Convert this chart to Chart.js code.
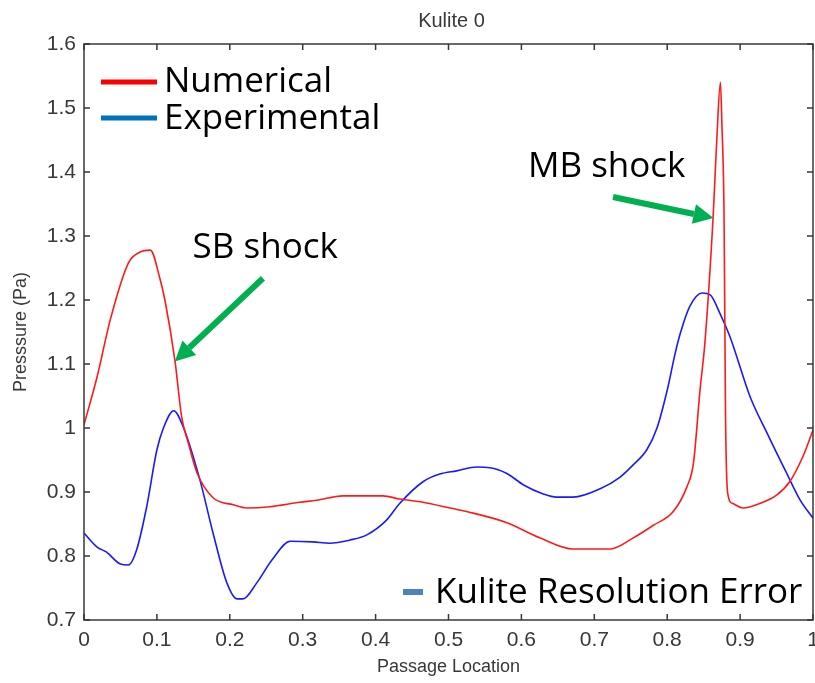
<!DOCTYPE html>
<html>
<head>
<meta charset="utf-8">
<title>Kulite 0</title>
<script src="https://cdn.jsdelivr.net/npm/chart.js@4/dist/chart.umd.min.js"></script>
<style>
  html, body { margin: 0; padding: 0; background: #fff; }
  #wrap { width: 815px; height: 683px; }
</style>
</head>
<body>
<div id="wrap"><canvas id="kuliteChart" width="815" height="683"></canvas></div>
<script>
// Kulite 0 - pressure along the passage

const chartTitle = 'Kulite 0';
const xTitle = 'Passage Location';
const yTitle = 'Presssure (Pa)';
const seriesNames = ['Numerical', 'Experimental'];

// Numerical (red)
const numX = [0, 0.018, 0.036, 0.061, 0.077, 0.091, 0.104, 0.111, 0.125, 0.134,
    0.143, 0.155, 0.177, 0.205, 0.223, 0.255, 0.296, 0.319, 0.355, 0.41,
    0.433, 0.465, 0.502, 0.534, 0.58, 0.626, 0.671, 0.722, 0.753, 0.781,
    0.808, 0.827, 0.836, 0.845, 0.852, 0.863, 0.868, 0.873, 0.875, 0.878,
    0.88, 0.883, 0.89, 0.904, 0.927, 0.95, 0.968, 0.986, 1.0];
const numY = [1.005, 1.08, 1.169, 1.258, 1.275, 1.278, 1.234, 1.2, 1.103, 1.017,
    0.977, 0.93, 0.891, 0.88, 0.875, 0.877, 0.884, 0.887, 0.894, 0.894,
    0.889, 0.884, 0.875, 0.867, 0.852, 0.828, 0.811, 0.811, 0.828, 0.848,
    0.869, 0.908, 0.945, 1.059, 1.137, 1.33, 1.45, 1.54, 1.476, 1.33,
    1.02, 0.898, 0.882, 0.875, 0.882, 0.895, 0.916, 0.955, 0.997];

// Experimental (blue)
const expX = [0, 0.018, 0.031, 0.049, 0.061, 0.072, 0.086, 0.1, 0.109, 0.123,
    0.136, 0.159, 0.177, 0.196, 0.21, 0.218, 0.237, 0.258, 0.283, 0.314,
    0.337, 0.365, 0.388, 0.415, 0.433, 0.465, 0.488, 0.511, 0.539, 0.557,
    0.58, 0.603, 0.63, 0.648, 0.671, 0.708, 0.735, 0.753, 0.772, 0.786,
    0.8, 0.811, 0.818, 0.831, 0.848, 0.859, 0.872, 0.886, 0.914, 0.937,
    0.964, 0.982, 1.0];
const expY = [0.836, 0.814, 0.806, 0.788, 0.786, 0.809, 0.877, 0.966, 1.0, 1.027,
    1.002, 0.919, 0.836, 0.758, 0.733, 0.733, 0.758, 0.794, 0.823, 0.822,
    0.82, 0.825, 0.833, 0.856, 0.882, 0.916, 0.928, 0.933, 0.939, 0.938,
    0.929, 0.911, 0.897, 0.892, 0.892, 0.905, 0.923, 0.942, 0.966, 1.0,
    1.059, 1.117, 1.148, 1.19, 1.211, 1.208, 1.18, 1.143, 1.048, 0.992,
    0.929, 0.888, 0.859];

const xTicks = [0, 0.1, 0.2, 0.3, 0.4, 0.5, 0.6, 0.7, 0.8, 0.9, 1];
const yTicks = [0.7, 0.8, 0.9, 1, 1.1, 1.2, 1.3, 1.4, 1.5, 1.6];

// callouts, given in data units
const callouts = [
    { text: 'SB shock', tx: 0.149, ty: 1.266, from: [0.2455, 1.234], to: [0.1245, 1.104] },
    { text: 'MB shock', tx: 0.609, ty: 1.392, from: [0.7257, 1.361], to: [0.8635, 1.328] }
];
const errorNote = 'Kulite Resolution Error';

const axisFont = 'Liberation Sans, Arial, sans-serif';
const noteFont = '"Open Sans", "Noto Sans", sans-serif';
const axisColor = '#383838';
const arrowColor = '#00B050';

function toPoints(xs, ys) {
    return xs.map((x, i) => ({ x: x, y: ys[i] }));
}

function fmt(v) {
    return String(parseFloat(Number(v).toFixed(1)));
}

const framePlugin = {
    id: 'frame',
    afterDatasetsDraw(chart) {
        const ctx = chart.ctx;
        const area = chart.chartArea;
        const xs = chart.scales.x;
        const ys = chart.scales.y;
        const tick = 6;

        ctx.save();
        // box + inward ticks on every side
        ctx.strokeStyle = axisColor;
        ctx.lineWidth = 1.5;
        ctx.strokeRect(area.left, area.top, area.right - area.left, area.bottom - area.top);
        ctx.beginPath();
        xTicks.forEach(v => {
            const px = xs.getPixelForValue(v);
            ctx.moveTo(px, area.bottom); ctx.lineTo(px, area.bottom - tick);
            ctx.moveTo(px, area.top); ctx.lineTo(px, area.top + tick);
        });
        yTicks.forEach(v => {
            const py = ys.getPixelForValue(v);
            ctx.moveTo(area.left, py); ctx.lineTo(area.left + tick, py);
            ctx.moveTo(area.right, py); ctx.lineTo(area.right - tick, py);
        });
        ctx.stroke();

        // title
        ctx.fillStyle = axisColor;
        ctx.font = '20px ' + axisFont;
        ctx.textAlign = 'center';
        ctx.textBaseline = 'alphabetic';
        ctx.fillText(chartTitle, (area.left + area.right) / 2 + 3, 27);

        // legend
        const legendColors = ['#FF0000', '#0070C0'];
        ctx.font = '35px ' + noteFont;
        ctx.textAlign = 'left';
        seriesNames.forEach((name, i) => {
            const ly = area.top + 38 + i * 36;
            ctx.strokeStyle = legendColors[i];
            ctx.lineWidth = 5;
            ctx.beginPath();
            ctx.moveTo(area.left + 17, ly);
            ctx.lineTo(area.left + 73, ly);
            ctx.stroke();
            ctx.fillStyle = '#000';
            ctx.fillText(name, area.left + 80, ly + 10 + i * 1);
        });

        // callouts with green arrows
        callouts.forEach(c => {
            ctx.fillStyle = '#000';
            ctx.fillText(c.text, xs.getPixelForValue(c.tx), ys.getPixelForValue(c.ty));
            drawArrow(ctx,
                xs.getPixelForValue(c.from[0]), ys.getPixelForValue(c.from[1]),
                xs.getPixelForValue(c.to[0]), ys.getPixelForValue(c.to[1]));
        });

        // resolution error note
        ctx.fillStyle = '#4F81BD';
        ctx.fillRect(area.left + 319, area.bottom - 31, 20, 6);
        ctx.fillStyle = '#000';
        ctx.fillText(errorNote, area.left + 351, area.bottom - 17);
        ctx.restore();
    }
};

function drawArrow(ctx, x1, y1, x2, y2) {
    const ang = Math.atan2(y2 - y1, x2 - x1);
    const headLen = 20;
    const headHalf = 10;
    const bx = x2 - headLen * Math.cos(ang);
    const by = y2 - headLen * Math.sin(ang);
    ctx.strokeStyle = arrowColor;
    ctx.fillStyle = arrowColor;
    ctx.lineWidth = 6;
    ctx.beginPath();
    ctx.moveTo(x1, y1);
    ctx.lineTo(bx, by);
    ctx.stroke();
    ctx.beginPath();
    ctx.moveTo(x2, y2);
    ctx.lineTo(bx + headHalf * Math.sin(ang), by - headHalf * Math.cos(ang));
    ctx.lineTo(bx - headHalf * Math.sin(ang), by + headHalf * Math.cos(ang));
    ctx.closePath();
    ctx.fill();
}

const ctx = document.getElementById('kuliteChart').getContext('2d');
new Chart(ctx, {
    type: 'line',
    data: {
        datasets: [{
            label: seriesNames[0],
            data: toPoints(numX, numY),
            borderColor: '#FF1A1A',
            borderWidth: 1.6,
            pointRadius: 0,
            cubicInterpolationMode: 'monotone',
            fill: false
        }, {
            label: seriesNames[1],
            data: toPoints(expX, expY),
            borderColor: '#1A1AFF',
            borderWidth: 1.6,
            pointRadius: 0,
            cubicInterpolationMode: 'monotone',
            fill: false
        }]
    },
    options: {
        responsive: false,
        animation: false,
        layout: { padding: { top: 44, right: 2, left: 0, bottom: 0 } },
        plugins: {
            legend: { display: false },
            tooltip: { enabled: false },
            title: { display: false }
        },
        scales: {
            x: {
                type: 'linear',
                min: 0,
                max: 1,
                afterFit: s => { s.height = 63; s.paddingLeft = 0; s.paddingRight = 0; },
                afterBuildTicks: s => { s.ticks = xTicks.map(v => ({ value: v })); },
                grid: { display: false, drawTicks: false },
                border: { display: false },
                ticks: {
                    padding: 8,
                    color: axisColor,
                    font: { family: axisFont, size: 21 },
                    maxRotation: 0,
                    callback: v => fmt(v)
                },
                title: {
                    display: true,
                    text: xTitle,
                    color: axisColor,
                    font: { family: axisFont, size: 18 },
                    padding: { top: 0, bottom: 5 }
                }
            },
            y: {
                min: 0.7,
                max: 1.6,
                afterFit: s => { s.width = 84; s.paddingTop = 0; s.paddingBottom = 0; },
                afterBuildTicks: s => { s.ticks = yTicks.map(v => ({ value: v })); },
                grid: { display: false, drawTicks: false },
                border: { display: false },
                ticks: {
                    padding: 8,
                    color: axisColor,
                    font: { family: axisFont, size: 21 },
                    callback: v => fmt(v)
                },
                title: {
                    display: true,
                    text: yTitle,
                    color: axisColor,
                    font: { family: axisFont, size: 18 },
                    padding: { top: 10, bottom: 0 }
                }
            }
        }
    },
    plugins: [framePlugin]
});
</script>
</body>
</html>
